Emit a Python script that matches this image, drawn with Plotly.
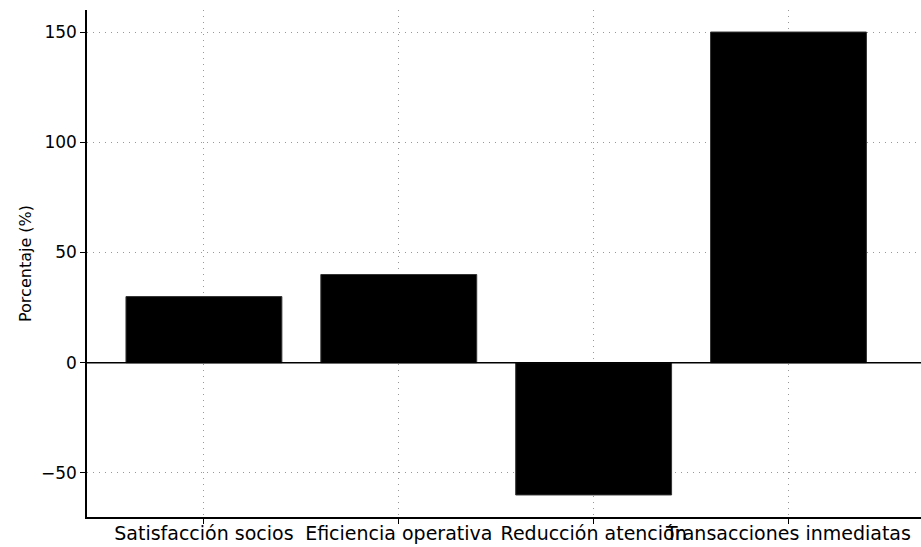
import plotly.graph_objects as go

categories = ["Satisfacción socios", "Eficiencia operativa", "Reducción atención", "Transacciones inmediatas"]
values = [30, 40, -60, 150]
y_ticks = [-50, 0, 50, 100, 150]

fig = go.Figure()
fig.add_trace(go.Bar(
    x=categories, y=values, width=0.8,
    marker=dict(color="black", line=dict(color="#333333", width=1)),
))
fig.add_hline(y=0, line=dict(color="black", width=1.5))

fig.update_layout(
    width=921, height=547,
    margin=dict(l=87, r=0, t=10, b=30, autoexpand=False),
    plot_bgcolor="white", paper_bgcolor="white",
    font=dict(family="DejaVu Sans", size=17, color="black"),
    showlegend=False,
    bargap=0.2,
)
fig.update_xaxes(
    type="category", range=[-0.6, 3.68], automargin=False,
    showline=True, linecolor="black", linewidth=1.5, mirror=False,
    ticks="outside", ticklen=5, tickcolor="black",
    showgrid=True, gridcolor="#999999", griddash="1px,5px", gridwidth=1,
    tickangle=0, tickfont=dict(size=19), ticklabelstandoff=-7,
)
fig.update_yaxes(
    range=[-70, 160], tickvals=y_ticks, automargin=False,
    showline=True, linecolor="black", linewidth=1.5,
    ticks="outside", ticklen=5, tickcolor="black",
    showgrid=True, gridcolor="#999999", griddash="1px,5px", gridwidth=1,
    zeroline=False,
    title=dict(text="Porcentaje (%)", font=dict(size=16), standoff=5),
    tickfont=dict(size=17),
)

fig.write_html(
    "out.html",
    config={"displayModeBar": False},
    post_script="document.body.style.margin='0';document.body.style.overflow='hidden';",
)
